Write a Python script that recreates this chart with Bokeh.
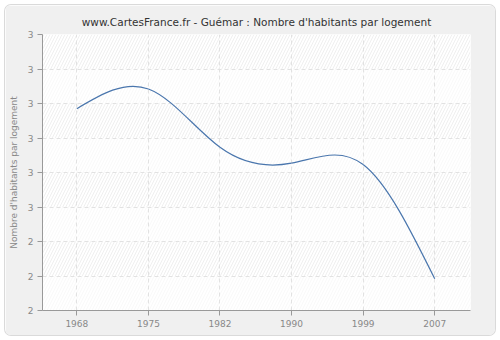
import numpy as np
from bokeh.plotting import figure
from bokeh.models import FixedTicker, BoxAnnotation, Range1d
from bokeh.embed import file_html
from bokeh.resources import INLINE

years = ["1968", "1975", "1982", "1990", "1999", "2007"]
values = [2.785, 2.842, 2.673, 2.627, 2.623, 2.292]
y_ticks = [2.2, 2.3, 2.4, 2.5, 2.6, 2.7, 2.8, 2.9, 3.0]
y_tick_labels = ["2", "2", "2", "3", "3", "3", "3", "3", "3"]

title = "www.CartesFrance.fr - Guémar : Nombre d'habitants par logement"
y_label = "Nombre d'habitants par logement"

# category positions
xs = np.arange(len(years), dtype=float)
ys = np.array(values, dtype=float)

# natural cubic spline -> bezier control points (uniform spacing)
n = len(ys) - 1
A = np.zeros((n + 1, n + 1))
b = np.zeros(n + 1)
A[0, 0] = 1.0
A[n, n] = 1.0
for i in range(1, n):
    A[i, i - 1] = 1.0
    A[i, i] = 4.0
    A[i, i + 1] = 1.0
    b[i] = 6.0 * (ys[i + 1] - 2 * ys[i] + ys[i - 1])
M = np.linalg.solve(A, b)
m = np.zeros(n + 1)
for i in range(n):
    m[i] = (ys[i + 1] - ys[i]) - (2 * M[i] + M[i + 1]) / 6.0
m[n] = (ys[n] - ys[n - 1]) + (M[n - 1] + 2 * M[n]) / 6.0

x0 = xs[:-1]
x1 = xs[1:]
y0 = ys[:-1]
y1 = ys[1:]
cx0 = x0 + 1.0 / 3.0
cy0 = y0 + m[:-1] / 3.0
cx1 = x1 - 1.0 / 3.0
cy1 = y1 - m[1:] / 3.0

p = figure(
    width=490, height=330,
    x_range=Range1d(-0.48, 5.5), y_range=Range1d(2.2, 3.0),
    output_backend="svg", toolbar_location=None,
    margin=(5, 5, 5, 5),
    min_border_left=36, min_border_right=25, min_border_top=29, min_border_bottom=25,
    border_fill_color="#f0f0f0", background_fill_color="white",
    title=title,
)
p.styles = {"border-radius": "6px", "box-shadow": "0 0 0 1px #dadada", "overflow": "hidden"}
p.outline_line_color = None

p.title.align = "center"
p.title.text_font = "DejaVu Sans"
p.title.text_font_size = "10.5px"
p.title.text_font_style = "normal"
p.title.text_color = "#333333"
p.title.offset = 6
p.title.standoff = 13

# hatched background
p.add_layout(BoxAnnotation(fill_color="white", fill_alpha=1.0, hatch_pattern="/",
                           hatch_color="#ebebeb", hatch_scale=6, hatch_weight=0.8,
                           line_color=None, level="image"))
for lo in [2.2, 2.4, 2.6, 2.8]:
    p.add_layout(BoxAnnotation(bottom=lo, top=lo + 0.1, fill_color="white", fill_alpha=0.6,
                               line_color=None, level="image"))

p.bezier(x0=x0, y0=y0, x1=x1, y1=y1, cx0=cx0, cy0=cy0, cx1=cx1, cy1=cy1,
         line_color="#4a76ad", line_width=1.2)

p.xaxis.ticker = FixedTicker(ticks=list(xs))
p.xaxis.major_label_overrides = {float(i): y for i, y in enumerate(years)}
p.yaxis.ticker = FixedTicker(ticks=y_ticks)
p.yaxis.major_label_overrides = {t: l for t, l in zip(y_ticks, y_tick_labels)}
p.yaxis.axis_label = y_label

for ax in [p.xaxis[0], p.yaxis[0]]:
    ax.axis_line_color = "#999999"
    ax.major_tick_line_color = "#999999"
    ax.minor_tick_line_color = None
    ax.major_tick_out = 5
    ax.major_tick_in = 0
    ax.major_label_text_font = "DejaVu Sans"
    ax.major_label_text_font_size = "9px"
    ax.major_label_text_color = "#888888"
    ax.major_label_standoff = 4
p.yaxis.axis_label_text_font = "DejaVu Sans"
p.yaxis.axis_label_text_font_size = "9px"
p.yaxis.axis_label_text_font_style = "normal"
p.yaxis.axis_label_text_color = "#888888"
p.yaxis.axis_label_standoff = 6

for g in [p.xgrid[0], p.ygrid[0]]:
    g.grid_line_color = "#e2e2e2"
    g.grid_line_dash = "4 3"
    g.grid_line_width = 1
p.xgrid.ticker = FixedTicker(ticks=list(xs))
p.ygrid.ticker = FixedTicker(ticks=y_ticks)

open("out.html", "w").write(file_html(p, INLINE))
